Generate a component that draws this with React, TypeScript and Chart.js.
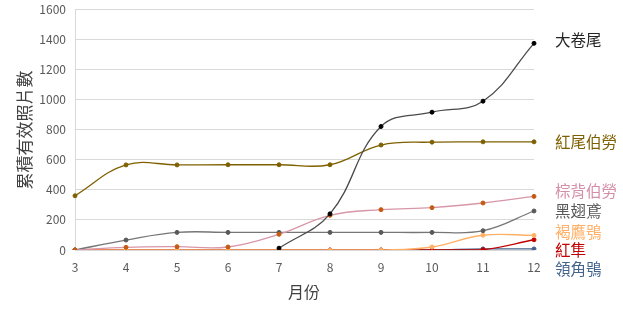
import React, { useEffect, useRef } from "react";
import { Chart, registerables } from "chart.js";

Chart.register(...registerables);

const months = ["3", "4", "5", "6", "7", "8", "9", "10", "11", "12"];
const yTicks = [0, 200, 400, 600, 800, 1000, 1200, 1400, 1600];

const daJuanWei = [null, null, null, null, 12, 240, 820, 915, 988, 1372];
const hongWeiBoLao = [360, 565, 565, 566, 566, 566, 697, 716, 718, 718];
const zongBeiBoLao = [0, 18, 22, 20, 104, 230, 268, 281, 312, 356];
const heiChiYuan = [0, 66, 117, 117, 117, 117, 117, 117, 128, 259];
const heYingXiao = [0, 0, 0, 0, 0, 0, 0, 20, 98, 97];
const hongSun = [0, 0, 0, 0, 0, 0, 0, 0, 2, 68];
const lingJiaoXiao = [0, 0, 0, 0, 0, 0, 0, 0, 7, 7];

const seriesNames = ["大卷尾", "紅尾伯勞", "棕背伯勞", "黑翅鳶", "褐鷹鴞", "紅隼", "領角鴞"];
const seriesValues = [daJuanWei, hongWeiBoLao, zongBeiBoLao, heiChiYuan, heYingXiao, hongSun, lingJiaoXiao];
const lineColors = ["#4a4a4a", "#7f6000", "#d896a8", "#767676", "#ffb066", "#c00000", "#44648c"];
const pointColors = ["#000000", "#7f6000", "#c55a11", "#595959", "#ffb066", "#c00000", "#44648c"];
const labelColors = ["#262626", "#7f6000", "#d48fa8", "#595959", "#ffb066", "#c00000", "#44648c"];
const labelY = [40, 142, 191, 211, 232, 250, 269];

const FONT = "'Noto Sans CJK TC', 'Open Sans', sans-serif";

const labelsPlugin = {
  id: "customLabels",
  afterDraw(chart: any) {
    const ctx = chart.ctx;
    ctx.save();
    ctx.textBaseline = "middle";
    ctx.textAlign = "left";
    ctx.font = `15.5px ${FONT}`;
    seriesNames.forEach((n, i) => {
      ctx.fillStyle = labelColors[i];
      ctx.fillText(n, 555, labelY[i]);
    });
    ctx.fillStyle = "#404040";
    ctx.font = `16px ${FONT}`;
    ctx.textAlign = "center";
    ctx.fillText("月份", 304, 292);
    ctx.translate(25, 130);
    ctx.rotate(-Math.PI / 2);
    ctx.font = `17px ${FONT}`;
    ctx.fillText("累積有效照片數", 0, 0);
    ctx.restore();
  },
};

export default function App() {
  const ref = useRef<HTMLCanvasElement>(null);
  useEffect(() => {
    document.body.style.margin = "0";
    const chart = new Chart(ref.current!, {
      type: "line",
      data: {
        labels: months,
        datasets: seriesNames.map((n, i) => ({
          label: n,
          data: seriesValues[i] as any,
          borderColor: lineColors[i],
          backgroundColor: pointColors[i],
          pointBackgroundColor: pointColors[i],
          pointBorderColor: pointColors[i],
          pointRadius: 2,
          pointBorderWidth: 1,
          borderWidth: 1.3,
          tension: 0.4,
          fill: false,
          spanGaps: false,
        })),
      },
      options: {
        animation: false,
        responsive: false,
        layout: { padding: { top: 9, right: 89, left: 0, bottom: 0 } },
        plugins: { legend: { display: false }, tooltip: { enabled: false } },
        scales: {
          x: {
            offset: false,
            grid: { display: false, drawTicks: false },
            border: { display: true, color: "#d9d9d9" },
            ticks: { color: "#595959", font: { size: 12, family: FONT }, padding: 10, maxRotation: 0 },
            afterFit: (s: any) => { s.height = 61; s.paddingLeft = 0; s.paddingRight = 0; },
          },
          y: {
            min: 0,
            max: 1600,
            afterBuildTicks: (s: any) => { s.ticks = yTicks.map((v) => ({ value: v })); },
            grid: { color: "#d9d9d9", drawTicks: false },
            border: { display: true, color: "#d9d9d9" },
            ticks: {
              color: "#595959",
              font: { size: 12, family: FONT },
              padding: 9,
              callback: (v: any) => String(v),
            },
            afterFit: (s: any) => { s.width = 75; s.paddingTop = 0; s.paddingBottom = 0; },
          },
        },
      },
      plugins: [labelsPlugin],
    });
    return () => chart.destroy();
  }, []);
  return (
    <div style={{ width: 623, height: 311 }}>
      <canvas ref={ref} width={623} height={311} />
    </div>
  );
}
